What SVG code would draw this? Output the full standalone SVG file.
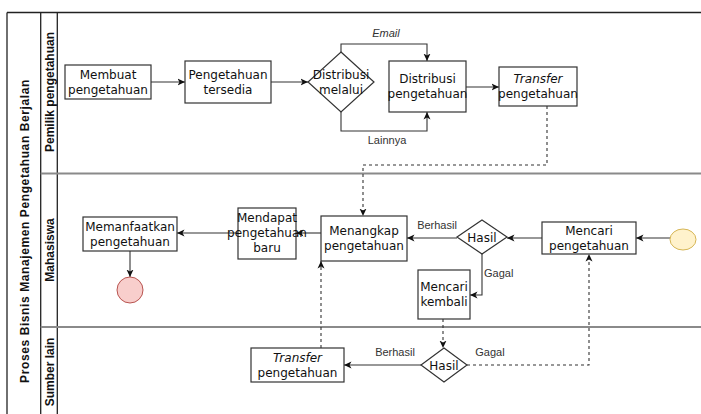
<svg xmlns="http://www.w3.org/2000/svg" width="701" height="414" viewBox="0 0 701 414">
  <style>
    .node rect, .node polygon { fill: #ffffff; stroke: #333333; stroke-width: 1.2; }
    .t { font-family: "DejaVu Sans", "Open Sans", sans-serif; font-size: 12px; fill: #111111; text-anchor: middle; }
    .it { font-style: italic; }
    .lbl { font-family: "Liberation Sans", Arial, sans-serif; font-size: 11px; fill: #333333; }
    .lane { font-family: "Liberation Sans", Arial, sans-serif; font-size: 12px; font-weight: bold; fill: #111111; text-anchor: middle; }
    .edge { fill: none; stroke: #333333; stroke-width: 1.1; marker-end: url(#arrow); }
    .dash { stroke-dasharray: 3 3; }
    .pool { fill: none; stroke: #222222; stroke-width: 1.3; }
    .divider { stroke: #8a8a8a; stroke-width: 2; }
  </style>
  <defs>
    <marker id="arrow" viewBox="0 0 8 8" refX="7.5" refY="4" markerWidth="8" markerHeight="8" markerUnits="userSpaceOnUse" orient="auto">
      <path d="M0,0.5 L7.5,4 L0,7.5 L2,4 Z" fill="#111111"/>
    </marker>
  </defs>

  <rect x="0" y="0" width="701" height="414" fill="#ffffff"/>

  <!-- pool and swimlanes -->
  <g id="pool">
    <line class="pool" x1="7" y1="12.5" x2="701" y2="12.5"/>
    <line class="pool" x1="7" y1="12.5" x2="7" y2="414"/>
    <line class="pool" x1="40.7" y1="12.5" x2="40.7" y2="414"/>
    <line class="pool" x1="57.3" y1="12.5" x2="57.3" y2="414"/>
    <line class="divider" x1="40.7" y1="173.5" x2="701" y2="173.5"/>
    <line class="divider" x1="40.7" y1="327" x2="701" y2="327"/>
    <text class="lane" font-size="13" letter-spacing="0.6" transform="translate(28.5,231) rotate(-90)">Proses Bisnis Manajemen Pengetahuan Berjalan</text>
    <text class="lane" transform="translate(53.5,92) rotate(-90)">Pemilik pengetahuan</text>
    <text class="lane" transform="translate(53.5,250) rotate(-90)">Mahasiswa</text>
    <text class="lane" transform="translate(53.5,372) rotate(-90)">Sumber lain</text>
  </g>

  <!-- connectors -->
  <g id="connectors">
    <path class="edge" d="M151,82 H185"/>
    <path class="edge" d="M271,82 H308"/>
    <path class="edge" d="M341,52 V44 H427 V61"/>
    <path class="edge" d="M341,112 V131 H427 V112"/>
    <path class="edge" d="M466,87 H499"/>
    <path class="edge dash" d="M547,106 V165 H363 V216"/>
    <path class="edge" d="M670,238 H636"/>
    <path class="edge" d="M542,238 H507"/>
    <path class="edge" d="M457,238 H407"/>
    <path class="edge" d="M482,254 V295 H470"/>
    <path class="edge" d="M321,233 H296"/>
    <path class="edge" d="M238,233 H177"/>
    <path class="edge" d="M130,251 V277"/>
    <path class="edge dash" d="M443,319 V348"/>
    <path class="edge" d="M421,365 H344"/>
    <path class="edge dash" d="M467,365 H589 V254"/>
    <path class="edge dash" d="M321,348 V261"/>
    <text class="lbl it" x="386" y="37" text-anchor="middle">Email</text>
    <text class="lbl" x="387" y="143.5" text-anchor="middle">Lainnya</text>
    <text class="lbl" x="437" y="228.5" text-anchor="middle" font-size="9">Berhasil</text>
    <text class="lbl" x="484" y="277">Gagal</text>
    <text class="lbl" x="395" y="356" text-anchor="middle">Berhasil</text>
    <text class="lbl" x="490" y="356" text-anchor="middle">Gagal</text>
  </g>

  <!-- Pemilik pengetahuan lane -->
  <g id="membuat" class="node">
    <rect x="65" y="65" width="86" height="34"/>
    <text class="t" x="108" y="78.5">Membuat</text>
    <text class="t" x="108" y="93.5">pengetahuan</text>
  </g>
  <g id="tersedia" class="node">
    <rect x="185" y="61" width="86" height="42"/>
    <text class="t" x="228" y="78.5">Pengetahuan</text>
    <text class="t" x="228" y="93.5">tersedia</text>
  </g>
  <g id="distribusi-melalui" class="node">
    <polygon points="341,52 374,82 341,112 308,82"/>
    <text class="t" x="341" y="79">Distribusi</text>
    <text class="t" x="341" y="94">melalui</text>
  </g>
  <g id="distribusi-pengetahuan" class="node">
    <rect x="389" y="61" width="77" height="51"/>
    <text class="t" x="427.5" y="83">Distribusi</text>
    <text class="t" x="427.5" y="98">pengetahuan</text>
  </g>
  <g id="transfer-pemilik" class="node">
    <rect x="499" y="67" width="78" height="39"/>
    <text class="t it" x="538" y="83">Transfer</text>
    <text class="t" x="538" y="98">pengetahuan</text>
  </g>

  <!-- Mahasiswa lane -->
  <g id="mulai" class="node">
    <ellipse cx="683" cy="239.5" rx="13" ry="10.5" fill="#fff2cc" stroke="#d6b656" stroke-width="1"/>
  </g>
  <g id="mencari" class="node">
    <rect x="542" y="222" width="94" height="32"/>
    <text class="t" x="589" y="234.5">Mencari</text>
    <text class="t" x="589" y="249.5">pengetahuan</text>
  </g>
  <g id="hasil-1" class="node">
    <polygon points="482,220 507,237 482,254 457,237"/>
    <text class="t" x="482" y="241.5">Hasil</text>
  </g>
  <g id="menangkap" class="node">
    <rect x="321" y="216" width="86" height="45"/>
    <text class="t" x="364" y="235">Menangkap</text>
    <text class="t" x="364" y="250">pengetahuan</text>
  </g>
  <g id="mendapat" class="node">
    <rect x="238" y="208" width="58" height="51"/>
    <text class="t" x="267" y="222">Mendapat</text>
    <text class="t" x="267" y="237">pengetahuan</text>
    <text class="t" x="267" y="252">baru</text>
  </g>
  <g id="memanfaatkan" class="node">
    <rect x="83" y="217" width="94" height="34"/>
    <text class="t" x="130" y="230.5">Memanfaatkan</text>
    <text class="t" x="130" y="245.5">pengetahuan</text>
  </g>
  <g id="selesai" class="node">
    <circle cx="130" cy="290" r="13" fill="#f8cecc" stroke="#b85450" stroke-width="1"/>
  </g>
  <g id="mencari-kembali" class="node">
    <rect x="418" y="270" width="52" height="49"/>
    <text class="t" x="444" y="291">Mencari</text>
    <text class="t" x="444" y="306">kembali</text>
  </g>

  <!-- Sumber lain lane -->
  <g id="hasil-2" class="node">
    <polygon points="444,348 467,365 444,382 421,365"/>
    <text class="t" x="444" y="369.5">Hasil</text>
  </g>
  <g id="transfer-sumber" class="node">
    <rect x="251" y="348" width="93" height="34"/>
    <text class="t it" x="297.5" y="361.5">Transfer</text>
    <text class="t" x="297.5" y="376.5">pengetahuan</text>
  </g>
</svg>
